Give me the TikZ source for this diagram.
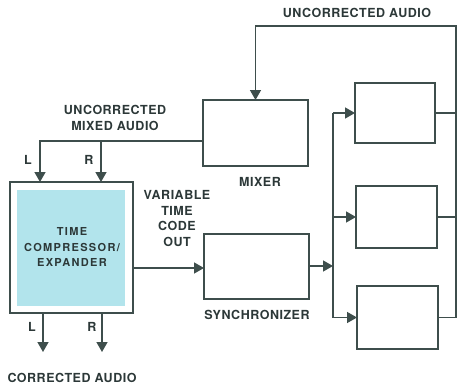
\documentclass[tikz,border=0pt]{standalone}
\usepackage{fontspec}
\setmainfont{TeX Gyre Heros}[LetterSpace=4]
\newfontfamily\boxfont{TeX Gyre Heros}[LetterSpace=12]
\usetikzlibrary{arrows.meta}
\definecolor{lc}{RGB}{62,78,76}
\definecolor{tc}{RGB}{44,56,56}
\definecolor{cy}{RGB}{178,228,236}
\tikzset{
  box/.style={draw=lc, line width=1.8pt, minimum width=#1, inner sep=0pt, outer sep=0pt},
  wire/.style={draw=lc, line width=1.4pt},
  arr/.style={wire, -{Triangle[width=11pt,length=10pt]}},
  lbl/.style={text=tc, font=\fontsize{12.5}{15.5}\selectfont\bfseries, align=center, inner sep=0pt}
}
\begin{document}
\begin{tikzpicture}[x=1pt,y=-1pt]
\useasboundingbox (0,0) rectangle (459,388);
% boxes
\node[box=105pt, minimum height=66pt] (mixer) at (255.5,133) {};
\node[box=105pt, minimum height=65pt] (sync) at (256.5,266.5) {};
\node[box=80pt, minimum height=60pt] (rt) at (395,113) {};
\node[box=81pt, minimum height=62pt] (rm) at (396.5,217) {};
\node[box=81pt, minimum height=63pt] (rb) at (397.5,317.5) {};
\node[box=123pt, minimum height=131pt] (tcx) at (71.5,247.5) {};
\node[fill=cy, minimum width=108pt, minimum height=116pt, inner sep=0pt] (tcin) at (71,248) {};
\node[lbl, font=\boxfont\fontsize{11}{15.5}\selectfont\bfseries] (tctext) at (72,247) {TIME\\COMPRESSOR/\\EXPANDER};
% labels
\node[lbl] (lua) at (357,13) {UNCORRECTED AUDIO};
\node[lbl] (lumx) at (115,118) {UNCORRECTED\\MIXED AUDIO};
\node[lbl] (lmixer) at (260,182) {MIXER};
\node[lbl] (lsync) at (257,315) {SYNCHRONIZER};
\node[lbl] (lvar) at (177,218.5) {VARIABLE\\TIME\\CODE\\OUT};
\node[lbl] (lca) at (72,378) {CORRECTED AUDIO};
\node[lbl] (lL1) at (28,160) {L};
\node[lbl] (lR1) at (89,160) {R};
\node[lbl] (lL2) at (32,327) {L};
\node[lbl] (lR2) at (92,327) {R};
% coordinates
\coordinate (ur) at (456,26);
\coordinate (bus) at (333,266);
\coordinate (mxo) at (203,141);
\coordinate (jL) at (40,141);
\coordinate (jR) at (101,141);
\coordinate (oL) at (43,352);
\coordinate (oR) at (102,352);
% connectors
\draw[arr] (rb.east) -- (rb.east -| ur) -- (ur) -| (mixer.north);
\draw[wire] (rm.east) -- (rm.east -| ur);
\draw[wire] (rt.east) -- (rt.east -| ur);
\draw[arr] (sync.east |- bus) -- (bus);
\draw[wire] (rt.west -| bus) -- (rb.west -| bus);
\draw[arr] (rt.west -| bus) -- (rt.west);
\draw[arr] (rm.west -| bus) -- (rm.west);
\draw[arr] (rb.west -| bus) -- (rb.west);
\draw[arr] (mxo) -- (jL) -- (jL |- tcx.north);
\draw[arr] (jR) -- (jR |- tcx.north);
\draw[arr] (tcx.east |- 0,268) -- (sync.west |- 0,268);
\draw[arr] (oL |- tcx.south) -- (oL);
\draw[arr] (oR |- tcx.south) -- (oR);
\end{tikzpicture}
\end{document}
